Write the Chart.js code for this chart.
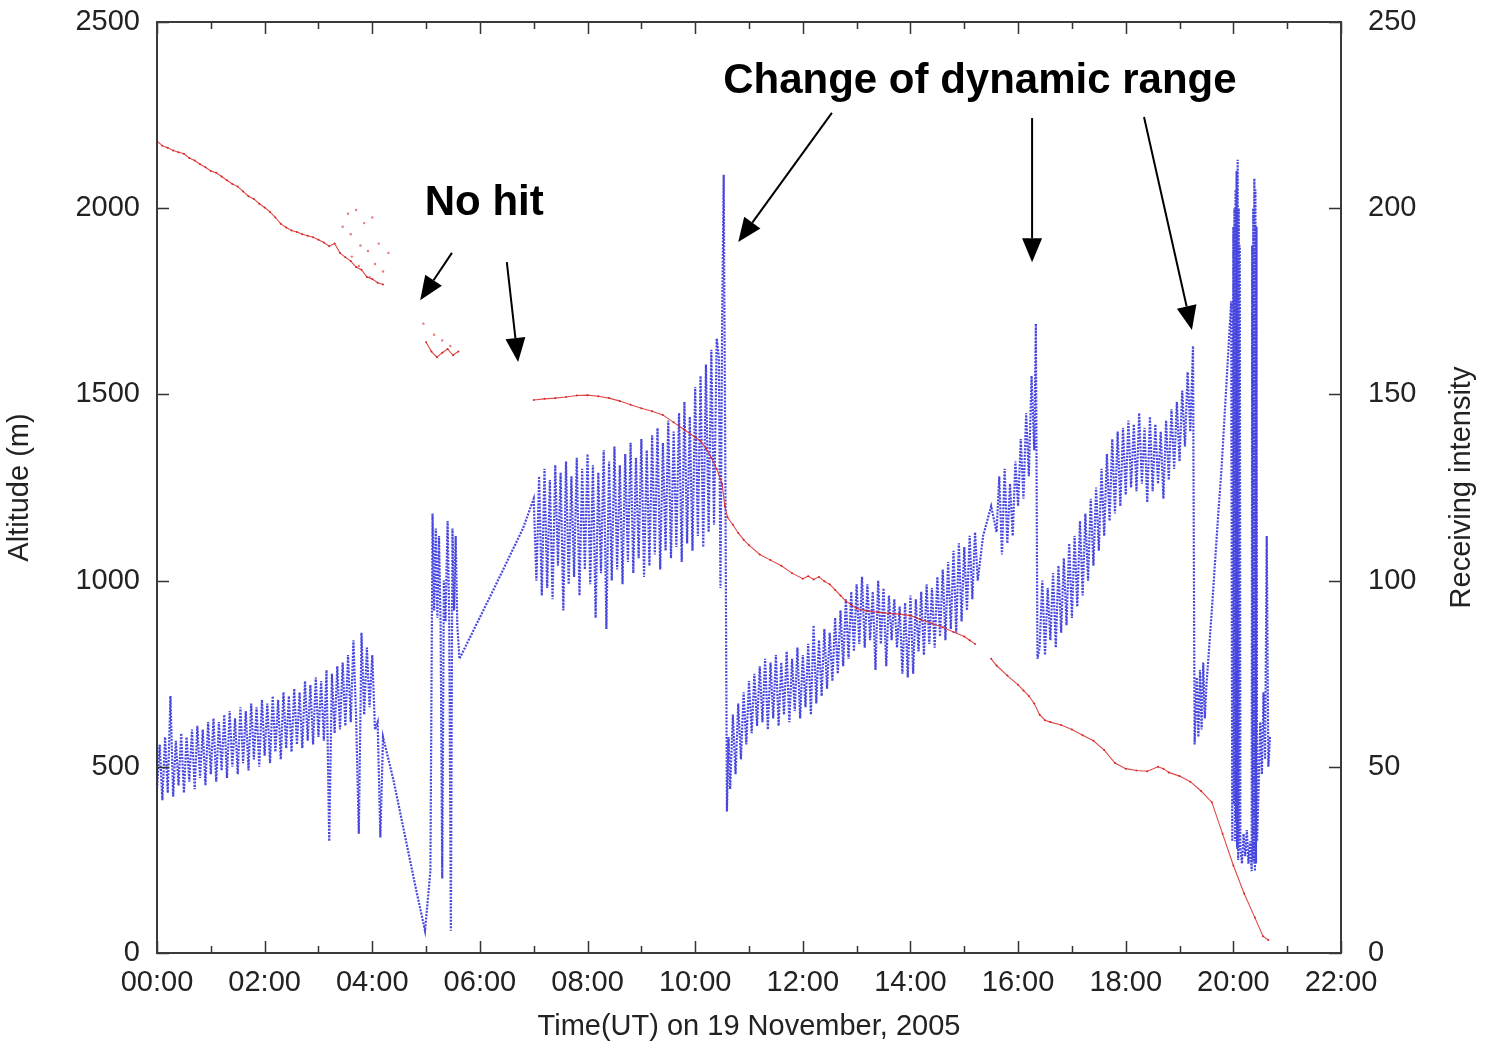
<!DOCTYPE html>
<html>
<head>
<meta charset="utf-8">
<script src="https://cdn.jsdelivr.net/npm/chart.js@4.4.1/dist/chart.umd.min.js"></script>
<style>
html,body{margin:0;padding:0;background:#fff;}
#c{display:block;}
</style>
</head>
<body>
<canvas id="c" width="1498" height="1044"></canvas>
<script>
// ---------- DATA ----------
const xTickHours = [0, 2, 4, 6, 8, 10, 12, 14, 16, 18, 20, 22];
const altitudeTicks = [0, 500, 1000, 1500, 2000, 2500];
const intensityTicks = [0, 50, 100, 150, 200, 250];

// Altitude (m) - red
const redTime = [0,0.1,0.2,0.3,0.4,0.5,0.6,0.7,0.8,0.9,1.0,1.1,1.2,1.3,1.4,1.5,1.6,1.7,1.8,1.9,2.0,2.1,2.2,2.3,2.4,2.5,2.6,2.7,2.8,2.9,3.0,3.1,3.2,3.3,3.4,3.5,3.6,3.7,3.8,3.9,4.0,4.1,4.2,
  4.6,
  5.0,5.1,5.2,5.3,5.4,5.5,5.6,
  6.3,
  7.0,7.2,7.4,7.6,7.8,8.0,8.2,8.4,8.6,8.8,9.0,9.2,9.4,9.6,9.8,10.0,10.1,10.2,10.3,10.4,10.5,10.55,10.6,10.7,10.8,10.9,11.0,11.2,11.4,11.6,11.8,12.0,12.1,12.2,12.3,12.4,12.5,12.6,12.7,12.8,12.9,13.0,13.2,13.4,13.6,13.8,14.0,14.2,14.4,14.6,14.8,15.0,15.1,15.2,
  15.35,
  15.5,15.6,15.8,16.0,16.1,16.2,16.3,16.4,16.5,16.6,16.8,17.0,17.2,17.4,17.6,17.8,18.0,18.2,18.4,18.6,18.7,18.8,19.0,19.2,19.4,19.6,19.8,20.0,20.2,20.4,20.55,20.65];
const redAlt = [2180,2168,2162,2155,2150,2146,2135,2128,2118,2110,2100,2095,2085,2075,2065,2058,2045,2032,2025,2012,2002,1990,1975,1958,1948,1940,1936,1930,1926,1922,1915,1908,1898,1905,1880,1868,1858,1842,1835,1815,1810,1800,1795,
  null,
  1640,1615,1600,1612,1622,1605,1615,
  null,
  1485,1488,1490,1493,1497,1498,1495,1490,1482,1472,1463,1455,1445,1425,1405,1385,1375,1355,1330,1300,1260,1200,1170,1150,1128,1110,1095,1070,1055,1040,1020,1005,1012,1003,1010,998,990,975,960,945,935,925,918,915,912,910,906,895,885,875,862,850,840,830,
  null,
  790,772,745,720,705,690,670,640,625,620,612,600,585,570,545,510,495,490,488,500,495,485,475,460,435,405,320,235,160,95,45,35];

// scattered altitude hits
const redScatterTime = [3.45,3.55,3.6,3.62,3.7,3.75,3.78,3.85,3.92,3.95,4.0,4.05,4.12,4.2,4.3,4.95,5.15,5.3,5.45];
const redScatterAlt  = [1950,1985,1930,1870,1995,1845,1900,1960,1885,1815,1975,1850,1905,1830,1880,1690,1660,1645,1630];

// Receiving intensity - blue
const blueTime = [
  0,0.05,0.1,0.15,0.2,0.25,0.3,0.35,0.4,0.45,0.5,0.55,0.6,0.65,0.7,0.75,0.8,0.85,0.9,0.95,
  1,1.05,1.1,1.15,1.2,1.25,1.3,1.35,1.4,1.45,1.5,1.55,1.6,1.65,1.7,1.75,1.8,1.85,1.9,1.95,
  2,2.05,2.1,2.15,2.2,2.25,2.3,2.35,2.4,2.45,2.5,2.55,2.6,2.65,2.7,2.75,2.8,2.85,2.9,2.95,
  3,3.05,3.1,3.15,3.2,3.25,3.3,3.35,3.4,3.45,3.5,3.55,3.6,3.65,3.7,3.75,3.8,3.85,3.9,3.95,
  4,4.05,4.1,4.15,4.2,4.4,4.6,4.8,4.98,
  5.08,5.12,5.15,5.18,5.21,5.24,5.27,5.3,5.33,5.36,5.4,5.43,5.46,5.49,5.52,5.55,5.58,5.62,6.2,6.8,
  7,7.05,7.1,7.15,7.2,7.25,7.3,7.35,7.4,7.45,7.5,7.55,7.6,7.65,7.7,7.75,7.8,7.85,7.9,7.95,
  8,8.05,8.1,8.15,8.2,8.25,8.3,8.35,8.4,8.45,8.5,8.55,8.6,8.65,8.7,8.75,8.8,8.85,8.9,8.95,
  9,9.05,9.1,9.15,9.2,9.25,9.3,9.35,9.4,9.45,9.5,9.55,9.6,9.65,9.7,9.75,9.8,9.85,9.9,9.95,
  10,10.05,10.1,10.15,10.2,10.25,10.3,10.35,10.4,10.44,10.47,10.5,10.53,10.56,10.59,
  10.62,10.65,10.7,10.75,10.8,10.85,10.9,10.95,
  11,11.05,11.1,11.15,11.2,11.25,11.3,11.35,11.4,11.45,11.5,11.55,11.6,11.65,11.7,11.75,11.8,11.85,11.9,11.95,
  12,12.05,12.1,12.15,12.2,12.25,12.3,12.35,12.4,12.45,12.5,12.55,12.6,12.65,12.7,12.75,12.8,12.85,12.9,12.95,
  13,13.05,13.1,13.15,13.2,13.25,13.3,13.35,13.4,13.45,13.5,13.55,13.6,13.65,13.7,13.75,13.8,13.85,13.9,13.95,
  14,14.05,14.1,14.15,14.2,14.25,14.3,14.35,14.4,14.45,14.5,14.55,14.6,14.65,14.7,14.75,14.8,14.85,14.9,14.95,
  15,15.05,15.1,15.15,15.2,15.25,15.35,15.5,15.6,15.65,15.7,15.75,15.8,15.85,15.9,15.95,
  16,16.05,16.1,16.15,16.2,16.25,16.3,16.33,16.36,
  16.4,16.45,16.5,16.55,16.6,16.65,16.7,16.75,16.8,16.85,16.9,16.95,
  17,17.05,17.1,17.15,17.2,17.25,17.3,17.35,17.4,17.45,17.5,17.55,17.6,17.65,17.7,17.75,17.8,17.85,17.9,17.95,
  18,18.05,18.1,18.15,18.2,18.25,18.3,18.35,18.4,18.45,18.5,18.55,18.6,18.65,18.7,18.75,18.8,18.85,18.9,18.95,
  19,19.05,19.1,19.15,19.2,19.25,19.28,
  19.32,19.35,19.38,19.41,19.44,19.47,19.5,19.54,19.6,19.66,19.72,19.78,19.84,19.9,19.96,
  19.98,20,20.01,20.02,20.03,20.04,20.05,20.06,20.07,20.08,20.09,20.1,20.11,20.12,20.13,
  20.16,20.19,20.22,20.25,20.28,20.31,
  20.34,20.35,20.36,20.37,20.38,20.39,20.4,20.41,20.42,20.43,20.44,
  20.47,20.5,20.53,20.56,20.59,20.62,20.65,20.68];
const blueIntensity = [
  44,56,41,58,43,69,42,57,45,59,43,58,46,60,44,61,47,60,45,62,
  48,63,46,62,49,64,47,65,50,63,48,66,51,65,49,67,52,66,50,68,
  53,67,51,69,54,68,52,70,55,69,54,71,56,70,55,73,57,72,56,74,
  58,73,57,76,30,75,59,77,60,78,61,80,62,84,63,32,86,64,82,66,
  80,60,62,31,58,46,32,18,6,
  22,118,92,114,90,112,88,20,100,89,116,90,6,114,92,112,88,79,96,114,
  122,100,128,96,130,98,127,95,131,104,129,92,132,99,128,101,133,96,130,103,
  134,99,131,90,129,102,135,87,132,100,136,103,131,99,134,105,137,102,133,106,
  138,101,135,104,139,107,141,103,137,108,143,106,140,109,145,105,148,110,144,108,
  152,112,155,109,158,113,162,115,165,160,98,168,209,130,38,
  58,44,64,48,67,52,70,56,
  73,59,75,61,77,62,79,60,78,63,80,61,78,64,81,62,79,65,82,63,
  80,66,83,64,88,67,84,69,87,71,86,73,90,75,92,77,95,79,97,81,
  99,83,101,82,99,84,97,76,100,83,98,77,96,84,95,82,93,75,94,74,
  96,75,95,81,97,80,99,83,98,82,101,85,103,84,105,87,108,86,110,89,
  109,92,112,95,113,100,112,120,113,128,107,130,110,126,112,132,
  120,138,122,145,128,155,135,169,79,
  82,100,80,98,84,102,82,104,86,106,88,110,
  90,112,93,116,96,118,100,122,104,125,108,130,112,134,116,138,118,140,120,141,
  123,143,125,142,124,145,126,141,121,144,124,142,126,140,122,143,127,146,130,148,
  132,151,136,156,140,163,56,
  74,58,76,60,78,63,72,80,92,105,118,130,145,160,175,
  30,195,40,200,30,205,35,210,28,213,25,200,30,190,28,
  24,32,26,33,24,30,
  22,190,25,200,24,208,22,205,24,195,30,
  45,62,48,70,52,112,50,58];

// ---------- ANNOTATIONS (data units: hours, metres) ----------
const noteTexts = ['No hit', 'Change of dynamic range'];
const noteAnchors = [[6.08, 1982], [15.29, 2309]];
const arrowSegments = [
  [5.48, 1880, 4.89, 1753],
  [6.50, 1855, 6.71, 1587],
  [12.54, 2256, 10.80, 1909],
  [16.26, 2242, 16.26, 1855],
  [18.34, 2245, 19.23, 1673]
];

// ---------- BUILD ----------
const toXY = (xs, ys) => xs.map((t, i) => ({x: t, y: ys[i]}));
const FONT = "'Liberation Sans', Arial, Helvetica, sans-serif";
const TEXT = '#222';

const frameTicks = {
  id: 'frameTicks',
  afterDatasetsDraw(chart) {
    const {ctx, chartArea: a, scales} = chart;
    const sx = scales.x, sy = scales.y, sy1 = scales.y1;
    ctx.save();
    ctx.strokeStyle = '#333';
    ctx.lineWidth = 1.5;
    ctx.beginPath();
    for (let h = sx.min; h <= sx.max; h += 1) {
      const px = Math.round(sx.getPixelForValue(h)) + 0.5;
      const len = (h % 2 === 0) ? 12 : 7;
      ctx.moveTo(px, a.bottom); ctx.lineTo(px, a.bottom - len);
      ctx.moveTo(px, a.top); ctx.lineTo(px, a.top + len);
    }
    altitudeTicks.forEach(v => {
      const py = Math.round(sy.getPixelForValue(v)) + 0.5;
      ctx.moveTo(a.left, py); ctx.lineTo(a.left + 12, py);
    });
    intensityTicks.forEach(v => {
      const py = Math.round(sy1.getPixelForValue(v)) + 0.5;
      ctx.moveTo(a.right, py); ctx.lineTo(a.right - 12, py);
    });
    ctx.stroke();
    ctx.lineWidth = 2;
    ctx.strokeStyle = '#3a3a3a';
    ctx.strokeRect(a.left, a.top, a.right - a.left, a.bottom - a.top);
    ctx.restore();
  }
};

const annotations = {
  id: 'annotations',
  afterDraw(chart) {
    const {ctx, scales} = chart;
    const sx = scales.x, sy = scales.y;
    ctx.save();
    ctx.fillStyle = TEXT;
    ctx.font = '29px ' + FONT;
    ctx.textAlign = 'center';
    ctx.textBaseline = 'middle';
    ctx.translate(1462, (chart.chartArea.top + chart.chartArea.bottom) / 2);
    ctx.rotate(-Math.PI / 2);
    ctx.fillText('Receiving intensity', 0, 0);
    ctx.restore();

    ctx.save();
    ctx.fillStyle = '#000';
    ctx.font = 'bold 42px ' + FONT;
    ctx.textAlign = 'center';
    ctx.textBaseline = 'alphabetic';
    noteTexts.forEach((t, i) => {
      ctx.fillText(t, sx.getPixelForValue(noteAnchors[i][0]), sy.getPixelForValue(noteAnchors[i][1]));
    });
    ctx.strokeStyle = '#000';
    ctx.lineWidth = 2;
    arrowSegments.forEach(s => {
      const x0 = sx.getPixelForValue(s[0]), y0 = sy.getPixelForValue(s[1]);
      const x1 = sx.getPixelForValue(s[2]), y1 = sy.getPixelForValue(s[3]);
      const ang = Math.atan2(y1 - y0, x1 - x0);
      const L = 24, W = 10;
      const bx = x1 - L * Math.cos(ang), by = y1 - L * Math.sin(ang);
      ctx.beginPath();
      ctx.moveTo(x0, y0); ctx.lineTo(bx, by);
      ctx.stroke();
      ctx.beginPath();
      ctx.moveTo(x1, y1);
      ctx.lineTo(bx + W * Math.sin(ang), by - W * Math.cos(ang));
      ctx.lineTo(bx - W * Math.sin(ang), by + W * Math.cos(ang));
      ctx.closePath();
      ctx.fill();
    });
    ctx.restore();
  }
};

const noVPad = s => { s.width = 157; s.paddingTop = 0; s.paddingBottom = 0; };

new Chart(document.getElementById('c'), {
  type: 'line',
  data: {
    datasets: [
      {
        label: 'Receiving intensity',
        data: toXY(blueTime, blueIntensity),
        yAxisID: 'y1',
        borderColor: 'rgba(25,25,215,0.8)',
        borderWidth: 2.2,
        borderDash: [2, 1.3],
        pointRadius: 0,
        tension: 0,
        order: 2
      },
      {
        label: 'Altitude',
        data: toXY(redTime, redAlt),
        yAxisID: 'y',
        borderColor: 'rgba(220,40,40,0.85)',
        borderWidth: 1.1,
        pointRadius: 1,
        pointBackgroundColor: 'rgba(210,30,30,0.9)',
        pointBorderWidth: 0,
        spanGaps: false,
        tension: 0,
        order: 1
      },
      {
        label: 'Altitude scatter',
        data: toXY(redScatterTime, redScatterAlt),
        yAxisID: 'y',
        showLine: false,
        pointRadius: 1.2,
        pointBackgroundColor: 'rgba(225,90,90,0.8)',
        pointBorderWidth: 0,
        order: 1
      }
    ]
  },
  options: {
    responsive: false,
    animation: false,
    events: [],
    layout: {padding: {top: 22, left: 0, right: 0, bottom: 0}},
    plugins: {legend: {display: false}, tooltip: {enabled: false}},
    scales: {
      x: {
        type: 'linear',
        min: 0, max: 22,
        afterBuildTicks: s => { s.ticks = xTickHours.map(v => ({value: v})); },
        afterFit: s => { s.height = 91; s.paddingLeft = 0; s.paddingRight = 0; },
        grid: {display: false, drawTicks: false},
        border: {display: false},
        ticks: {
          padding: 13,
          color: TEXT,
          font: {family: FONT, size: 29},
          maxRotation: 0,
          autoSkip: false,
          callback: v => String(v).padStart(2, '0') + ':00'
        },
        title: {
          display: true,
          text: 'Time(UT) on 19 November, 2005',
          color: TEXT,
          font: {family: FONT, size: 29},
          padding: {top: 0, bottom: 0}
        }
      },
      y: {
        position: 'left',
        min: 0, max: 2500,
        afterBuildTicks: s => { s.ticks = altitudeTicks.map(v => ({value: v})); },
        afterFit: noVPad,
        grid: {display: false, drawTicks: false},
        border: {display: false},
        ticks: {padding: 17, color: TEXT, font: {family: FONT, size: 29}, callback: v => String(v)},
        title: {
          display: true,
          text: 'Altitude (m)',
          color: TEXT,
          font: {family: FONT, size: 29},
          padding: {top: 3, bottom: 0}
        }
      },
      y1: {
        position: 'right',
        min: 0, max: 250,
        afterBuildTicks: s => { s.ticks = intensityTicks.map(v => ({value: v})); },
        afterFit: noVPad,
        grid: {display: false, drawTicks: false},
        border: {display: false},
        ticks: {padding: 27, color: TEXT, font: {family: FONT, size: 29}, callback: v => String(v)},
        title: {display: false}
      }
    }
  },
  plugins: [frameTicks, annotations]
});
</script>
</body>
</html>
